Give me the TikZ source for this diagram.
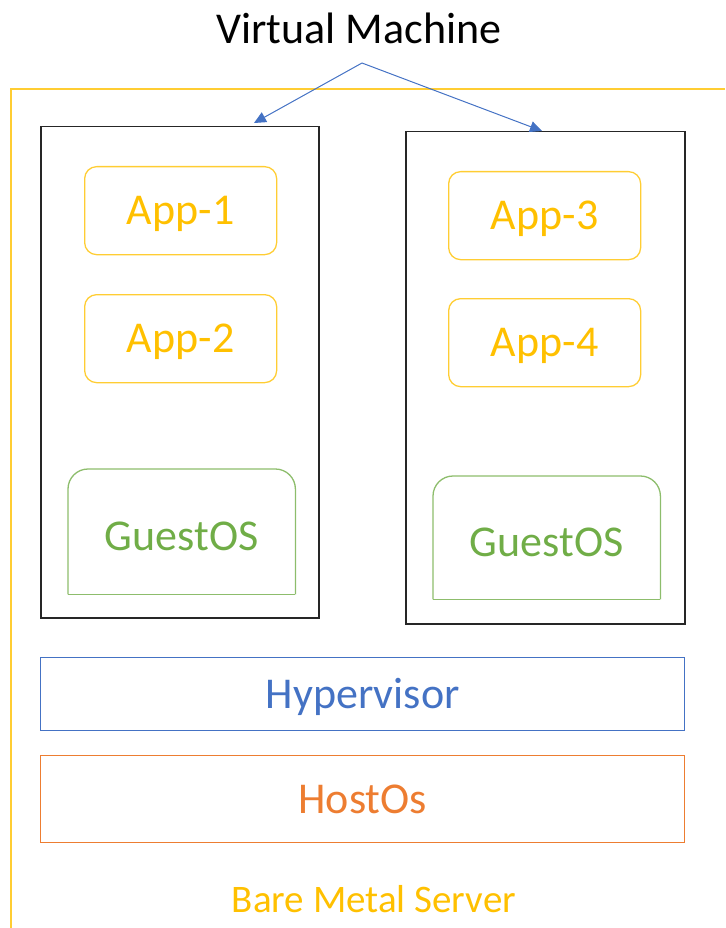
\documentclass[tikz,border=0pt]{standalone}
\usepackage{fontspec}
\setmainfont{Carlito}
\usetikzlibrary{arrows.meta}

\definecolor{metalyellow}{HTML}{FFC000}
\definecolor{osgreen}{HTML}{70AD47}
\definecolor{hyperblue}{HTML}{4472C4}
\definecolor{hostorange}{HTML}{ED7D31}

\tikzset{
    bigtext/.style={font=\fontsize{44}{50}\selectfont, text height=28pt, text depth=0pt},
    vmbox/.style={draw=black!85, line width=1.5pt, anchor=north west, inner sep=0pt},
    appbox/.style={bigtext, draw=metalyellow!80, line width=1.3pt, rounded corners=12pt, anchor=north west,
        inner sep=0pt, minimum width=192pt, minimum height=88pt, text=metalyellow},
    guestline/.style={draw=osgreen!80, line width=1.3pt},
    guestbox/.style={anchor=north west, inner sep=0pt, minimum width=227pt, minimum height=125pt},
    guesttext/.style={bigtext, text=osgreen},
    layerbox/.style={bigtext, line width=1.3pt, anchor=north west, inner sep=0pt, minimum width=644pt},
    vmarrow/.style={draw=hyperblue, line width=1pt, -{Triangle[width=11pt,length=12pt]}}
}

\begin{document}
\begin{tikzpicture}[x=1pt, y=-1pt]
    \useasboundingbox (0, 0) rectangle (725, 928);

    % outer server frame
    \draw[metalyellow!80, line width=1.5pt] (11, 928) -- (11, 89) -- (725, 89);

    \node (title) at (359, 28) {\fontsize{44}{50}\selectfont Virtual Machine};

    % virtual machines
    \node[vmbox, minimum width=278pt, minimum height=491pt] (vmL) at (40, 126) {};
    \node[vmbox, minimum width=279pt, minimum height=492pt] (vmR) at (405, 131) {};

    \node[appbox] (app1) at (84, 166) {App-1};
    \node[appbox] (app2) at (84, 294) {App-2};
    \node[appbox] (app3) at (448, 171) {App-3};
    \node[appbox] (app4) at (448, 298) {App-4};

    \node[guestbox] (guestL) at (68, 469) {};
    \node[guestbox, minimum height=123pt] (guestR) at (433, 476) {};
    \foreach \g in {guestL, guestR} {
        \draw[guestline, rounded corners=20pt] (\g.south west) -- (\g.north west) -- (\g.north east) -- (\g.south east);
        \draw[guestline] (\g.south west) -- (\g.south east);
        \node[guesttext] at ([yshift=-5pt]\g.center) {GuestOS};
    }

    % layers
    \node[layerbox, draw=hyperblue, text=hyperblue, minimum height=73pt] (hyper) at (40, 657) {Hypervisor};
    \node[layerbox, draw=hostorange, text=hostorange, minimum height=87pt] (host) at (40, 755) {HostOs};

    \node[text=metalyellow, font=\fontsize{39}{45}\selectfont] (metal) at (374, 899) {Bare Metal Server};

    % arrows from the label
    \coordinate (fork) at (362, 63);
    \coordinate (tipL) at (254, 123);
    \coordinate (tipR) at (542, 131);
    \draw[vmarrow] (fork) -- (tipL);
    \draw[vmarrow] (fork) -- (tipR);
\end{tikzpicture}
\end{document}
